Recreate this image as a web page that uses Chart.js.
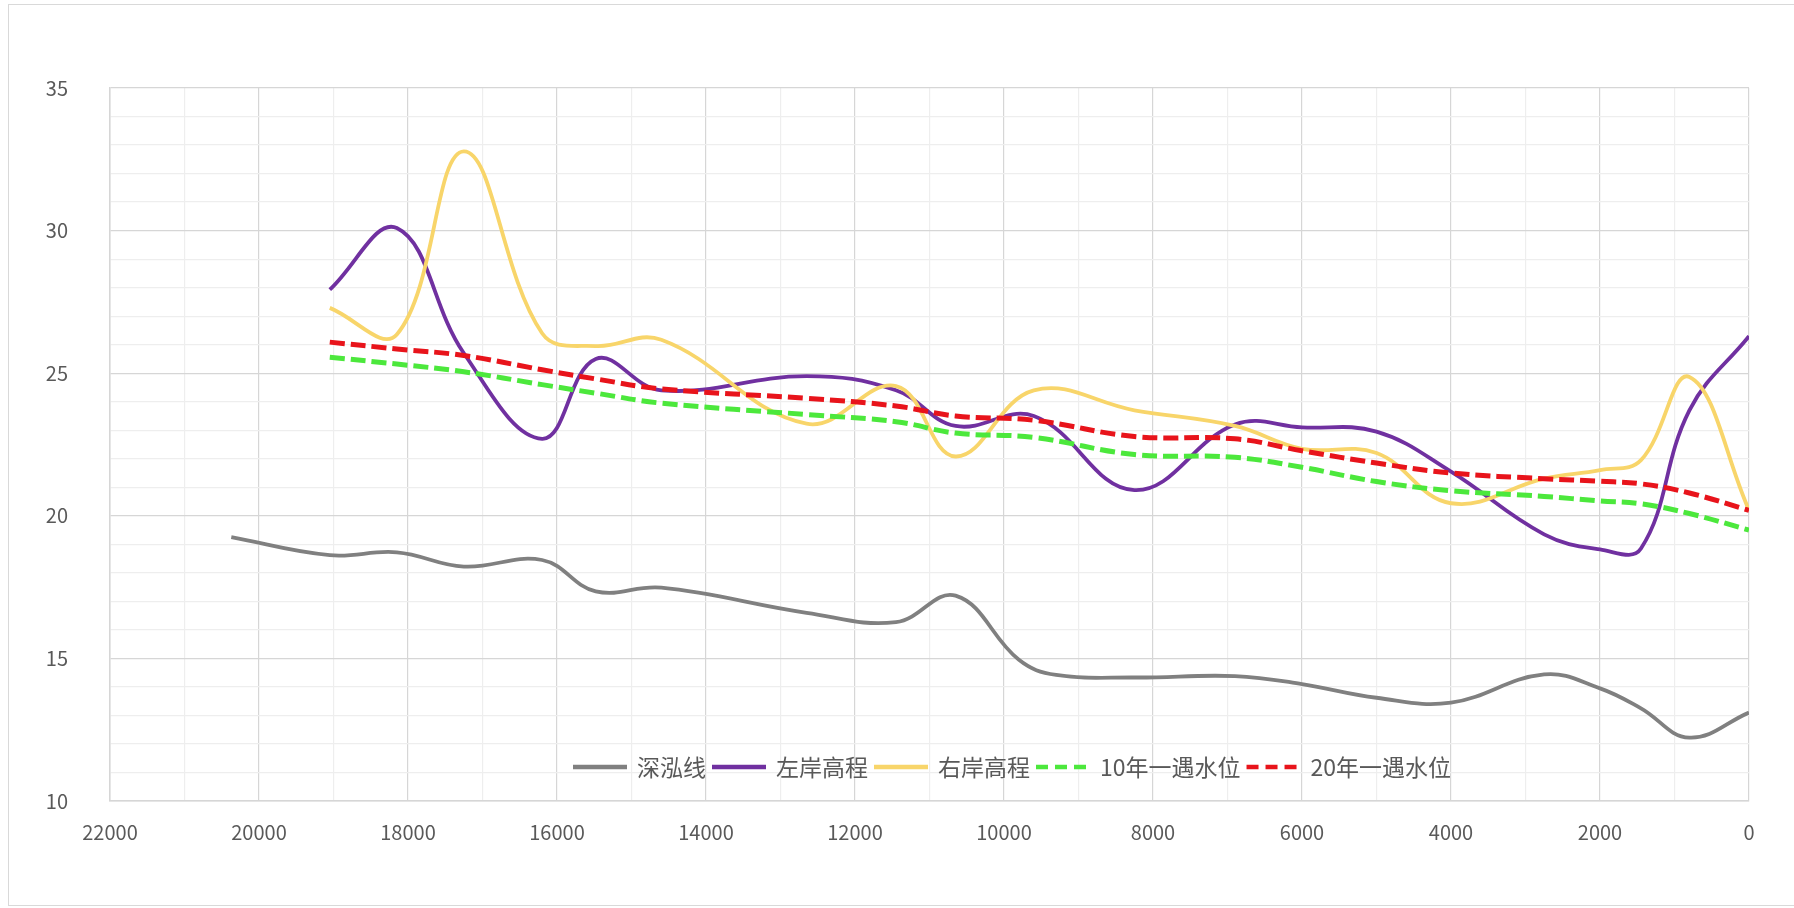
<!DOCTYPE html>
<html>
<head>
<meta charset="utf-8">
<script src="https://cdn.jsdelivr.net/npm/chart.js@4.4.1/dist/chart.umd.min.js"></script>
<style>
  html, body { margin: 0; padding: 0; background: #fff; overflow: hidden; }
  #wrap { position: relative; width: 1794px; height: 908px; }
  #frame { position: absolute; left: 8px; top: 4px; width: 1800px; height: 902px;
           border: 1.5px solid #d9d9d9; box-sizing: border-box; }
  canvas { position: absolute; left: 0; top: 0; }
</style>
</head>
<body>
<div id="wrap">
  <div id="frame"></div>
  <canvas id="chart" width="1794" height="908"></canvas>
</div>
<script>
// Stations (distance, m) shared by the bank and flood-level profiles
const stations = [19050, 18150, 17250, 16200, 15480, 14600, 12650, 11450, 10650, 9600,
                  8250, 6900, 6000, 5000, 4000, 2750, 2000, 1450, 800, 0];
// The thalweg profile has its own survey sections
const thalwegStations = [20372, 19050, 18150, 17250, 16200, 15480, 14600, 12650, 11450, 10650,
                         9800, 9300, 8250, 6900, 6000, 5000, 4000, 2750, 2000, 1450, 800, 0];

// Elevations (m)
const thalweg   = [19.25, 18.62, 18.72, 18.22, 18.45, 17.35, 17.48, 16.6, 16.27, 17.2,
                   14.95, 14.42, 14.33, 14.38, 14.1, 13.62, 13.45, 14.44, 13.95, 13.25, 12.22, 13.1];
const leftBank  = [27.93, 30.09, 25.7, 22.7, 25.5, 24.4, 24.9, 24.4, 23.15, 23.5,
                   20.9, 23.2, 23.1, 22.95, 21.55, 19.35, 18.82, 18.85, 23.7, 26.3];
const rightBank = [27.29, 26.36, 32.78, 26.4, 25.95, 26.17, 23.23, 24.55, 22.08, 24.4,
                   23.7, 23.15, 22.35, 22.2, 20.44, 21.3, 21.6, 21.95, 24.87, 20.2];
const flood10   = [25.56, 25.32, 25.05, 24.6, 24.3, 23.95, 23.55, 23.3, 22.9, 22.75,
                   22.15, 22.05, 21.7, 21.2, 20.88, 20.68, 20.52, 20.42, 20.08, 19.5];
const flood20   = [26.09, 25.85, 25.62, 25.12, 24.8, 24.45, 24.12, 23.85, 23.5, 23.35,
                   22.78, 22.7, 22.28, 21.85, 21.5, 21.3, 21.21, 21.12, 20.8, 20.19];

const seriesNames = ['深泓线', '左岸高程', '右岸高程', '10年一遇水位', '20年一遇水位'];

// Axis ranges and tick steps
const xMin = 0, xMax = 22000, xMinorStep = 1000, xMajorStep = 2000;
const yMin = 10, yMax = 35, yMinorStep = 1, yMajorStep = 5;

const toPoints = (xs, ys) => xs.map((x, i) => ({ x: x, y: ys[i] }));

const majorGrid = '#d6d6d6';
const minorGrid = '#eeeeee';
const tickColor = '#595959';
const fontFamily = '"Noto Sans CJK SC", "Noto Sans", sans-serif';

function lineSet(label, xs, ys, color, width, dash, order) {
  return {
    label: label,
    data: toPoints(xs, ys),
    showLine: true,
    borderColor: color,
    backgroundColor: color,
    borderWidth: width,
    borderDash: dash,
    pointRadius: 0,
    pointHoverRadius: 0,
    tension: 0.4,
    fill: false,
    order: order
  };
}

// Legend drawn inside the plot area, below the curves
const insideLegend = {
  id: 'insideLegend',
  afterDatasetsDraw(chart) {
    const ctx = chart.ctx;
    ctx.save();
    ctx.font = '23px ' + fontFamily;
    ctx.textBaseline = 'middle';
    let x = 573;
    const y = 767;
    chart.data.datasets.forEach(ds => {
      ctx.strokeStyle = ds.borderColor;
      ctx.lineWidth = 4.5;
      ctx.setLineDash(ds.borderDash && ds.borderDash.length ? [12, 7] : []);
      ctx.beginPath();
      ctx.moveTo(x, y);
      ctx.lineTo(x + 54, y);
      ctx.stroke();
      ctx.setLineDash([]);
      x += 64;
      ctx.fillStyle = tickColor;
      ctx.fillText(ds.label, x, y);
      x += ctx.measureText(ds.label).width + 6;
    });
    ctx.restore();
  }
};

new Chart(document.getElementById('chart'), {
  type: 'scatter',
  data: {
    datasets: [
      lineSet(seriesNames[0], thalwegStations, thalweg, '#808080', 3.8, [], 4),
      lineSet(seriesNames[1], stations, leftBank, '#7030A0', 3.8, [], 3),
      lineSet(seriesNames[2], stations, rightBank, '#F8D56A', 3.8, [], 2),
      lineSet(seriesNames[3], stations, flood10, '#4CE83C', 5, [15, 6], 1),
      lineSet(seriesNames[4], stations, flood20, '#E8141B', 5, [15, 6], 0)
    ]
  },
  options: {
    responsive: false,
    animation: false,
    layout: { padding: { left: 0, top: 88, right: 45, bottom: 0 } },
    plugins: {
      legend: { display: false },
      tooltip: { enabled: false }
    },
    scales: {
      x: {
        type: 'linear',
        reverse: true,
        min: xMin,
        max: xMax,
        afterFit(scale) { scale.height = 107; },
        ticks: {
          stepSize: xMinorStep,
          autoSkip: false,
          maxRotation: 0,
          padding: 19,
          color: tickColor,
          font: { family: fontFamily, size: 20 },
          callback: v => (v % xMajorStep === 0 ? String(v) : '')
        },
        grid: {
          drawTicks: false,
          lineWidth: 1.2,
          color: c => (c.tick && c.tick.value % xMajorStep === 0 ? majorGrid : minorGrid)
        },
        border: { color: majorGrid, width: 1.5 }
      },
      y: {
        type: 'linear',
        min: yMin,
        max: yMax,
        afterFit(scale) { scale.width = 110; },
        ticks: {
          stepSize: yMinorStep,
          autoSkip: false,
          padding: 42,
          color: tickColor,
          font: { family: fontFamily, size: 20 },
          callback: v => (v % yMajorStep === 0 ? String(v) : '')
        },
        grid: {
          drawTicks: false,
          lineWidth: 1.2,
          color: c => (c.tick && c.tick.value % yMajorStep === 0 ? majorGrid : minorGrid)
        },
        border: { color: majorGrid, width: 1.5 }
      }
    }
  },
  plugins: [insideLegend]
});
</script>
</body>
</html>
